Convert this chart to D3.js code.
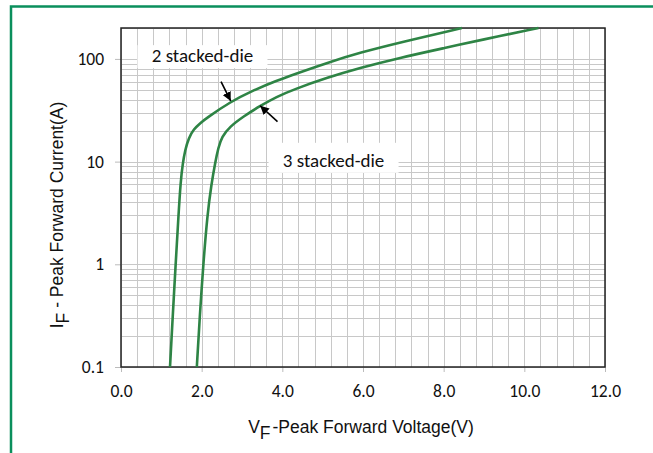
<!DOCTYPE html>
<html>
<head>
<meta charset="utf-8">
<script src="https://cdn.jsdelivr.net/npm/d3@7"></script>
<style>
  body { margin: 0; background: #fff; }
  svg { display: block; }
</style>
</head>
<body>
<div id="chart"></div>
<script>
// forward characteristic
var vf2 = [1.215, 1.28, 1.355, 1.425, 1.48, 1.53, 1.59, 1.68, 1.80, 1.98, 2.125, 2.70, 3.28, 3.86, 4.27, 5.10, 5.93, 6.92, 8.45];
var if2 = [0.1, 0.3, 1, 3, 6.5, 9.5, 13, 17, 20.7, 24, 26.6, 38, 49.5, 61.5, 70.3, 91.4, 115.4, 144.5, 200];

var vf3 = [1.88, 1.95, 2.04, 2.14, 2.24, 2.34, 2.41, 2.50, 2.70, 3.03, 3.446, 3.86, 4.27, 5.10, 5.93, 6.92, 8.075, 8.90, 10.35];
var if3 = [0.1, 0.3, 1, 3, 6, 10, 13.5, 17.5, 21.9, 27.4, 34.8, 42.8, 50.2, 65.5, 81.9, 102.8, 129.1, 152.1, 200];

var xTicks = [0, 2, 4, 6, 8, 10, 12];
var yTicks = [0.1, 1, 10, 100];
var yTickLabels = ["0.1", "1", "10", "100"];

var seriesNames = ["2 stacked-die", "3 stacked-die"];
// label baseline centre (V, A) and arrow tail -> tip (V, A)
var labelAt = [[2.02, 93], [5.27, 8.9]];
var arrowFrom = [[2.48, 60], [3.88, 24.5]];
var arrowTo = [[2.72, 39], [3.45, 35]];

var width = 653, height = 453;
var pL = 121, pR = 605, pT = 28, pB = 367;
var green = "#2e8445";

var svg = d3.select("#chart")
    .append("svg")
    .attr("width", width)
    .attr("height", height);

// outer green frame (cut off on right and bottom)
svg.append("rect")
    .attr("x", 11)
    .attr("y", 6.5)
    .attr("width", 700)
    .attr("height", 500)
    .style("fill", "none")
    .style("stroke", "#0a8f5c")
    .style("stroke-width", 2.5);

var x = d3.scaleLinear().domain([0, 12]).range([pL, pR]);
var y = d3.scaleLog().domain([0.1, 200]).range([pB, pT]);

// grid
var vLines = d3.range(31).map(function(i) { return +(i * 0.4).toFixed(1); });
svg.append("g").selectAll("line")
    .data(vLines)
    .enter().append("line")
    .attr("x1", function(d) { return Math.round(x(d)) + 0.5; })
    .attr("x2", function(d) { return Math.round(x(d)) + 0.5; })
    .attr("y1", pT)
    .attr("y2", pB)
    .style("stroke", "#c8c8c8")
    .style("stroke-width", 1);

svg.append("g").selectAll("line")
    .data(y.ticks())
    .enter().append("line")
    .attr("x1", pL)
    .attr("x2", pR)
    .attr("y1", function(d) { return Math.round(y(d)) + 0.5; })
    .attr("y2", function(d) { return Math.round(y(d)) + 0.5; })
    .style("stroke", "#c8c8c8")
    .style("stroke-width", 1);

// axes
var tickFont = "Carlito, Calibri, Lato, sans-serif";

var xAxis = svg.append("g")
    .attr("transform", "translate(0," + pB + ")")
    .call(d3.axisBottom(x).tickValues(xTicks).tickSize(5).tickPadding(13)
        .tickFormat(function(d) { return d.toFixed(1); }));
xAxis.select(".domain").remove();
xAxis.selectAll("line").style("stroke", "#bbb");
xAxis.selectAll("text")
    .style("font-family", tickFont)
    .style("font-size", "17.5px")
    .style("fill", "#111");

var yAxis = svg.append("g")
    .attr("transform", "translate(" + pL + ",0)")
    .call(d3.axisLeft(y).tickValues(yTicks).tickSize(6).tickPadding(11)
        .tickFormat(function(d, i) { return yTickLabels[i]; }));
yAxis.select(".domain").remove();
yAxis.selectAll("line").style("stroke", "#bbb");
yAxis.selectAll("text")
    .style("font-family", tickFont)
    .style("font-size", "17.5px")
    .style("fill", "#111");

// plot frame
svg.append("rect")
    .attr("x", pL)
    .attr("y", pT)
    .attr("width", pR - pL)
    .attr("height", pB - pT)
    .style("fill", "none")
    .style("stroke", "#222")
    .style("stroke-width", 1.5);

// curves
var line = d3.line()
    .x(function(d) { return x(d[0]); })
    .y(function(d) { return y(d[1]); })
    .curve(d3.curveBasis);

var curves = [d3.zip(vf2, if2), d3.zip(vf3, if3)];
svg.append("g").selectAll("path")
    .data(curves)
    .enter().append("path")
    .attr("d", line)
    .style("fill", "none")
    .style("stroke", green)
    .style("stroke-width", 2.6);

// labels on white boxes
var boxTop = [17, 24], boxH = [23, 30];
seriesNames.forEach(function(name, i) {
    var cx = x(labelAt[i][0]), base = y(labelAt[i][1]);
    svg.append("rect")
        .attr("x", cx - 65)
        .attr("y", base - boxTop[i])
        .attr("width", 130)
        .attr("height", boxH[i])
        .style("fill", "#fff");
    svg.append("text")
        .attr("x", cx)
        .attr("y", base)
        .attr("text-anchor", "middle")
        .style("font-family", tickFont)
        .style("font-size", "19px")
        .style("fill", "#111")
        .text(name);
});

// arrows
svg.append("defs").append("marker")
    .attr("id", "head")
    .attr("viewBox", "0 0 10 10")
    .attr("refX", 10)
    .attr("refY", 5)
    .attr("markerWidth", 5.5)
    .attr("markerHeight", 5.5)
    .attr("orient", "auto")
    .append("path")
    .attr("d", "M0,0 L10,5 L0,10 Z")
    .style("fill", "#000");

svg.append("g").selectAll("line")
    .data(d3.range(arrowFrom.length))
    .enter().append("line")
    .attr("x1", function(i) { return x(arrowFrom[i][0]); })
    .attr("y1", function(i) { return y(arrowFrom[i][1]); })
    .attr("x2", function(i) { return x(arrowTo[i][0]); })
    .attr("y2", function(i) { return y(arrowTo[i][1]); })
    .attr("marker-end", "url(#head)")
    .style("stroke", "#000")
    .style("stroke-width", 1.6);

// axis titles
var titleFont = "Arial, 'Liberation Sans', sans-serif";

var xt = svg.append("text")
    .attr("x", (pL + pR) / 2 - 2)
    .attr("y", 433)
    .attr("text-anchor", "middle")
    .style("font-family", titleFont)
    .style("font-size", "17.5px")
    .style("fill", "#111");
xt.append("tspan").text("V");
xt.append("tspan").attr("dy", 6).text("F");
xt.append("tspan").attr("dy", -6).attr("dx", 2).text("-Peak Forward Voltage(V)");

var yt = svg.append("text")
    .attr("transform", "translate(63,215) rotate(-90)")
    .attr("text-anchor", "middle")
    .style("font-family", titleFont)
    .style("font-size", "17.5px")
    .style("fill", "#111");
yt.append("tspan").text("I");
yt.append("tspan").attr("dy", 6).text("F");
yt.append("tspan").attr("dy", -6).text(" - Peak Forward Current(A)");
</script>
</body>
</html>
